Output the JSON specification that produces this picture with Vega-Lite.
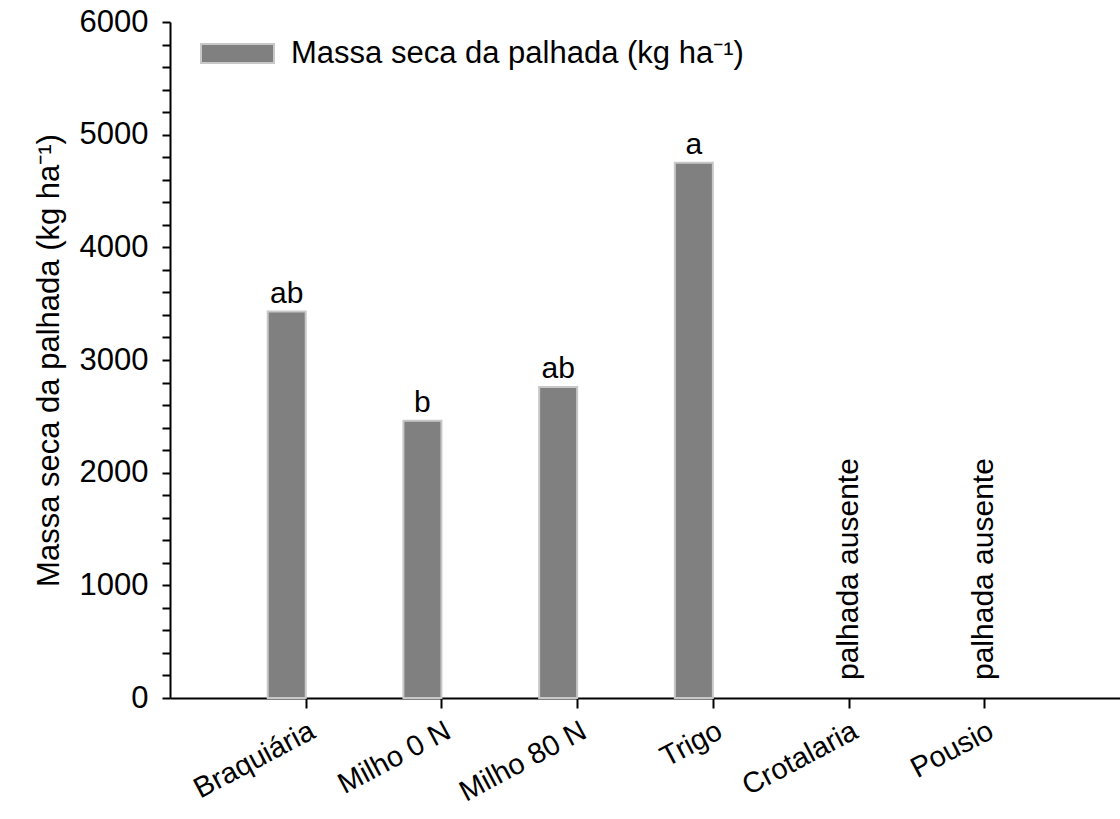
{
  "$schema": "https://vega.github.io/schema/vega-lite/v6.json",
  "autosize": "none",
  "width": 950,
  "height": 676,
  "padding": {"left": 170, "top": 22, "right": 0, "bottom": 121},
  "background": "white",
  "config": {
    "view": {"stroke": null},
    "font": "Liberation Sans",
    "axis": {"grid": false, "domainColor": "black", "domainWidth": 2, "tickColor": "black", "tickWidth": 2, "labelColor": "black", "titleColor": "black", "labelFont": "Liberation Sans", "titleFont": "Liberation Sans", "titleFontWeight": "normal"}
  },
  "data": {
    "values": [
      {"trat": "Braquiária", "massa": 3430, "letra": "ab"},
      {"trat": "Milho 0 N", "massa": 2460, "letra": "b"},
      {"trat": "Milho 80 N", "massa": 2760, "letra": "ab"},
      {"trat": "Trigo", "massa": 4750, "letra": "a"},
      {"trat": "Crotalaria", "massa": null, "letra": null},
      {"trat": "Pousio", "massa": null, "letra": null}
    ]
  },
  "encoding": {
    "x": {
      "field": "trat", "type": "nominal", "sort": null,
      "scale": {"type": "point", "padding": 1, "domain": ["Braquiária", "Milho 0 N", "Milho 80 N", "Trigo", "Crotalaria", "Pousio"]},
      "axis": {"title": null, "labelAngle": -28, "labelFontSize": 29, "tickSize": 10, "labelPadding": 8, "labelAlign": "right", "labelBaseline": "top"}
    },
    "y": {
      "field": "massa", "type": "quantitative",
      "scale": {"domain": [0, 6000], "nice": false, "zero": true},
      "axis": {
        "title": "Massa seca da palhada (kg ha⁻¹)",
        "titleFontSize": 31, "titlePadding": 14,
        "values": [0,200,400,600,800,1000,1200,1400,1600,1800,2000,2200,2400,2600,2800,3000,3200,3400,3600,3800,4000,4200,4400,4600,4800,5000,5200,5400,5600,5800,6000],
        "labelExpr": "datum.value % 1000 === 0 ? datum.label : ''",
        "format": "d",
        "labelFontSize": 31, "tickSize": 8, "labelPadding": 14
      }
    }
  },
  "layer": [
    {
      "mark": {"type": "bar", "width": 38, "xOffset": -19, "fill": "#808080", "stroke": "#c8c8c8", "strokeWidth": 2},
      "encoding": {
        "color": {
          "datum": "Massa seca da palhada (kg ha⁻¹)",
          "scale": {"range": ["#808080"]},
          "legend": {
            "title": null, "orient": "none", "legendX": 30, "legendY": -6,
            "symbolType": "M-1,-0.26L1,-0.26L1,0.26L-1,0.26Z",
            "symbolSize": 5329, "symbolStrokeColor": "#c8c8c8", "symbolStrokeWidth": 2,
            "symbolFillColor": "#808080",
            "labelFontSize": 31, "labelFont": "Liberation Sans", "labelColor": "black", "labelOffset": 16, "labelLimit": 0
          }
        }
      }
    },
    {
      "mark": {"type": "text", "xOffset": -19, "dy": -3, "fontSize": 30, "baseline": "bottom", "color": "black"},
      "encoding": {"text": {"field": "letra"}}
    },
    {
      "data": {
        "values": [
          {"trat": "Crotalaria", "massa": 0, "nota": "palhada ausente"},
          {"trat": "Pousio", "massa": 0, "nota": "palhada ausente"}
        ]
      },
      "mark": {"type": "text", "angle": 270, "align": "left", "baseline": "middle", "fontSize": 30, "dx": 18, "color": "black"},
      "encoding": {"text": {"field": "nota"}}
    }
  ]
}
